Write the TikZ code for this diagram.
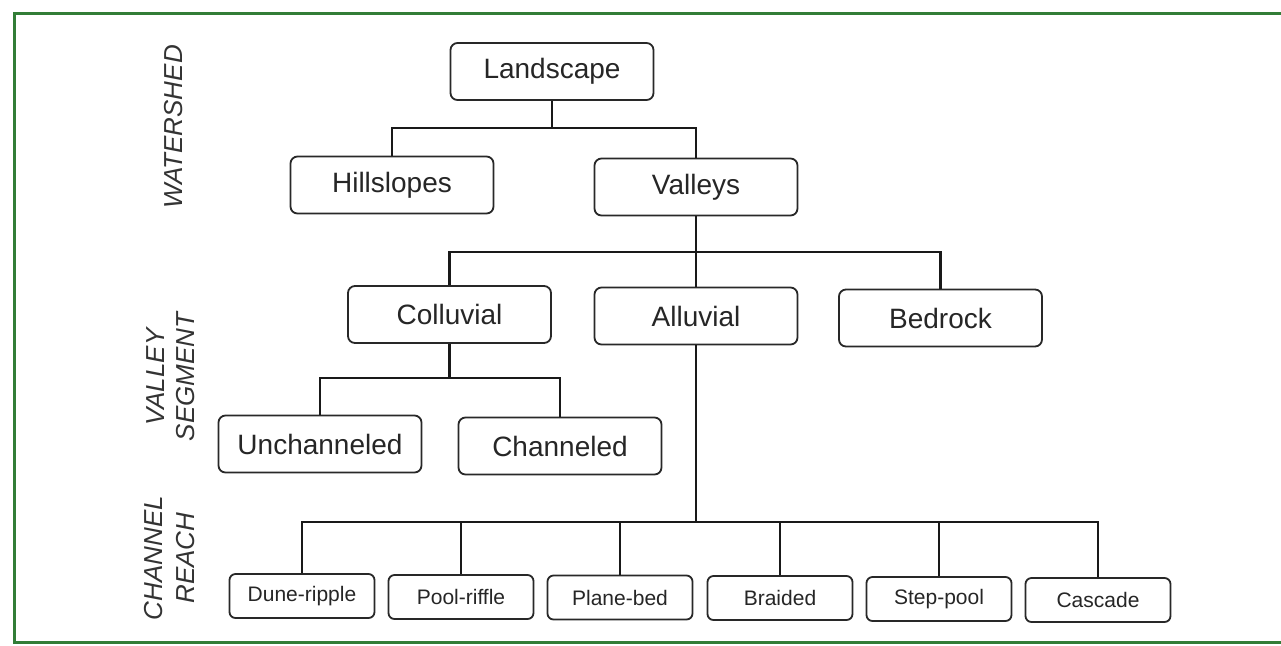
\documentclass[tikz,border=0pt]{standalone}
\usepackage{fontspec}
\setmainfont{Liberation Sans}
\definecolor{frameg}{RGB}{50,125,55}
\definecolor{boxline}{RGB}{40,40,40}
\begin{document}
\begin{tikzpicture}[x=0.5pt,y=-0.5pt,
  bigbox/.style={draw=boxline,line width=0.9pt,rounded corners=3.5pt,minimum width=101.5pt,minimum height=28.5pt,inner sep=0pt,font=\fontsize{14}{16}\selectfont,text=black!85},
  smallbox/.style={draw=boxline,line width=0.9pt,rounded corners=3pt,minimum width=72.5pt,minimum height=22pt,inner sep=0pt,font=\fontsize{10.5}{12}\selectfont,text=black!85},
  sidelabel/.style={rotate=90,align=center,inner sep=0pt,font=\fontsize{13}{15}\selectfont\itshape,text=black!80},
  conn/.style={draw=black!90,line width=1.1pt}]
\useasboundingbox (0,0) rectangle (1281,645);
\fill[white] (0,0) rectangle (1281,645);
% frame
\draw[frameg,line width=1.5pt] (1281,13) -- (14,13) -- (14,642) -- (1281,642);
% side labels
\node[sidelabel] (lw) at (174,127) {WATERSHED};
\node[sidelabel] (lv) at (171,377) {VALLEY\\SEGMENT};
\node[sidelabel,font=\fontsize{13}{16}\selectfont\itshape] (lc) at (170,558) {CHANNEL\\REACH};
% nodes
\node[bigbox] (land) at (552,71.5) {Landscape};
\node[bigbox] (hill) at (392,185) {Hillslopes};
\node[bigbox] (vall) at (696,187) {Valleys};
\node[bigbox] (coll) at (449.5,314.5) {Colluvial};
\node[bigbox] (allu) at (696,316) {Alluvial};
\node[bigbox] (bedr) at (940.5,318) {Bedrock};
\node[bigbox] (unch) at (320,444) {Unchanneled};
\node[bigbox] (chan) at (560,446) {Channeled};
\node[smallbox] (dune) at (302,596) {Dune-ripple};
\node[smallbox] (pool) at (461,597) {Pool-riffle};
\node[smallbox] (plan) at (620,597.5) {Plane-bed};
\node[smallbox] (brai) at (780,598) {Braided};
\node[smallbox] (step) at (939,599) {Step-pool};
\node[smallbox] (casc) at (1098,600) {Cascade};
% junctions
\coordinate (b1) at (552,128);
\coordinate (b2) at (696,252);
\coordinate (b3) at (449.5,378);
\coordinate (b4) at (696,522);
% connectors
\draw[conn] (land.south) -- (b1);
\draw[conn] (hill.north) |- (b1) -| (vall.north);
\draw[conn] (vall.south) -- (allu.north);
\draw[conn] (coll.north) |- (b2) -| (bedr.north);
\draw[conn] (coll.south) -- (b3);
\draw[conn] (unch.north) |- (b3) -| (chan.north);
\draw[conn] (allu.south) -- (b4);
\draw[conn] (dune.north) |- (b4) -| (casc.north);
\draw[conn] (pool.north) -- (pool.north |- b4);
\draw[conn] (plan.north) -- (plan.north |- b4);
\draw[conn] (brai.north) -- (brai.north |- b4);
\draw[conn] (step.north) -- (step.north |- b4);
\end{tikzpicture}
\end{document}
